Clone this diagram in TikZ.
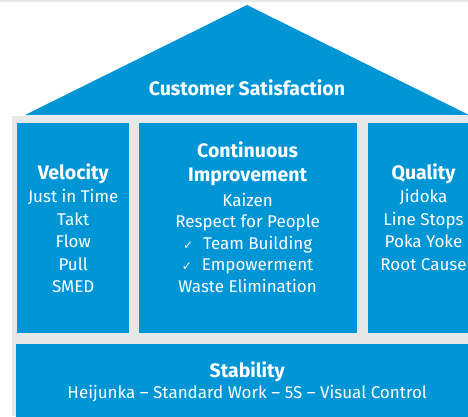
\documentclass[tikz,border=0pt]{standalone}
\usepackage{fontspec}
\setmainfont{Fira Sans}
\newfontfamily\tickfont{DejaVu Sans}
\usetikzlibrary{positioning}
\definecolor{hpblue}{HTML}{0096D6}
\newcommand{\hd}[1]{{\fontsize{19.5}{22}\selectfont\bfseries #1}}
\newcommand{\tick}{{\tickfont\fontsize{12}{22}\selectfont ✓}\hspace{10pt}}

\begin{document}
\begin{tikzpicture}[x=1pt,y=-1pt,
  pillar/.style={fill=hpblue, inner sep=0pt, minimum height=210pt},
  words/.style={text=white, align=center, inner sep=0pt, font=\fontsize{17}{22.5}\selectfont}]
\useasboundingbox (0,0) rectangle (468,416);
% frame and roof
\fill[black!9] (0,0) rectangle (468,2);
\fill[black!9] (12,116) rectangle (478,416);
\fill[hpblue] (25,115) -- (247,5) -- (469,115) -- cycle;
\node[words] (roof) at (247,88) {\hd{Customer Satisfaction}};

% pillars
\node[pillar, minimum width=112pt, anchor=north west] (vel) at (17,123) {};
\node[pillar, minimum width=218pt, right=9pt of vel] (mid) {};
\node[pillar, minimum width=111pt, right=11pt of mid] (qual) {};
\node[pillar, minimum width=462pt, minimum height=80pt, anchor=north west] (stab) at (16,344) {};

% texts
\node[words, below=40pt of vel.north] (velt) {\hd{Velocity}\\[1pt] Just in Time\\ Takt\\ Flow\\ Pull\\ SMED};
\node[words, below=18pt of mid.north, font=\fontsize{17}{21.5}\selectfont] (midt) {\hd{Continuous}\\[3pt] \hd{Improvement}\\[3pt] Kaizen\\ Respect for People\\ \tick Team Building\\ \tick Empowerment\\ Waste Elimination};
\node[words, below=40pt of qual.north] (qualt) {\hd{Quality}\\[1pt] Jidoka\\ Line Stops\\ Poka Yoke\\ Root Cause};
\node[words, below=17pt of stab.north] (stabt) {\hd{Stability}\\[-1pt] Heijunka -- Standard Work -- 5S -- Visual Control};
\end{tikzpicture}
\end{document}
